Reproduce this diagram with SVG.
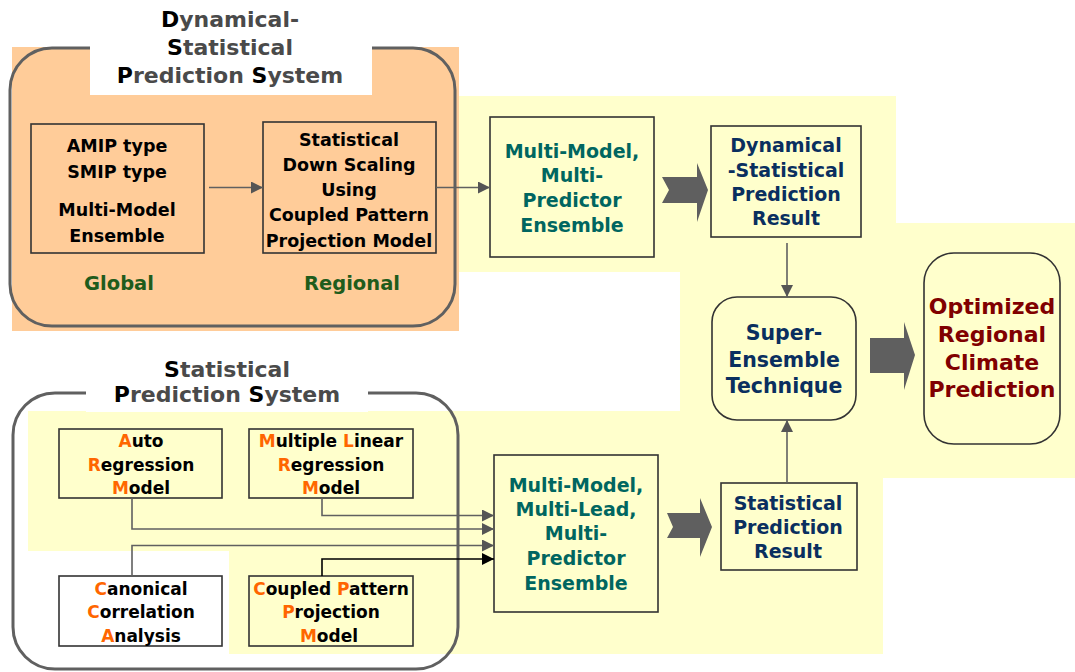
<svg xmlns="http://www.w3.org/2000/svg" width="1075" height="672" viewBox="0 0 1075 672">
<style>
text{font-family:"DejaVu Sans","Liberation Sans",sans-serif;font-weight:bold;text-anchor:middle}
.ttl{font-size:22px;fill:#4a4a4a}
.k{fill:#000}
.o{fill:#ff6600}
.tl{font-size:17.5px;fill:#000}
.bl{font-size:17px;fill:#000}
.grn{font-size:19.5px;fill:#1f5c1c}
.teal{font-size:19px;fill:#006660}
.navy{font-size:19px;fill:#0a2f5f}
.sup{font-size:20.5px;fill:#0a2f5f}
.red{font-size:22px;fill:#800000}
.box{fill:none;stroke:#333;stroke-width:1.6}
.ybox{fill:#ffffcc;stroke:#333;stroke-width:1.6}
.outer{fill:none;stroke:#606060;stroke-width:3}
.ln{fill:none;stroke:#606060;stroke-width:1.6}
.big{fill:#5f5f5f}
</style>
<defs>
<marker id="ag" markerUnits="userSpaceOnUse" markerWidth="13" markerHeight="12" refX="12" refY="6" orient="auto"><path d="M0,0 L12,6 L0,12 Z" fill="#555"/></marker>
<marker id="ak" markerUnits="userSpaceOnUse" markerWidth="13" markerHeight="12" refX="12" refY="6" orient="auto"><path d="M0,0 L12,6 L0,12 Z" fill="#000"/></marker>
</defs>
<rect width="1075" height="672" fill="#fff"/>
<g id="backgrounds">
<rect x="440" y="96" width="456" height="176" fill="#ffffcc"/>
<rect x="680" y="223" width="395" height="255" fill="#ffffcc"/>
<rect x="28" y="411" width="855" height="140" fill="#ffffcc"/>
<rect x="229" y="545" width="654" height="109" fill="#ffffcc"/>
<rect x="680" y="470" width="203" height="20" fill="#ffffcc"/>
<rect x="12" y="47" width="447" height="284" fill="#ffcc99"/>
</g>
<g id="dsps">
<rect class="outer" x="10" y="48" width="445" height="278" rx="42"/>
<rect x="90" y="0" width="282" height="95" fill="#fff"/>
<text class="ttl" x="230" y="27"><tspan class="k">D</tspan>ynamical-</text>
<text class="ttl" x="230" y="55"><tspan class="k">S</tspan>tatistical</text>
<text class="ttl" x="230" y="83"><tspan class="k">P</tspan>rediction <tspan class="k">S</tspan>ystem</text>
</g>
<g id="sps">
<rect class="outer" x="13" y="393" width="445" height="276" rx="42"/>
<rect x="86" y="355" width="282" height="57" fill="#fff"/>
<text class="ttl" x="227" y="377"><tspan class="k">S</tspan>tatistical</text>
<text class="ttl" x="227" y="402"><tspan class="k">P</tspan>rediction <tspan class="k">S</tspan>ystem</text>
</g>
<g id="amip">
<rect class="box" x="31" y="124" width="173" height="129"/>
<text class="tl" x="117" y="152">AMIP type</text>
<text class="tl" x="117" y="178">SMIP type</text>
<text class="tl" x="117" y="216">Multi-Model</text>
<text class="tl" x="117" y="242">Ensemble</text>
</g>
<g id="downscaling">
<rect class="box" x="263" y="122" width="173" height="131"/>
<text class="tl" x="349" y="146">Statistical</text>
<text class="tl" x="349" y="171">Down Scaling</text>
<text class="tl" x="349" y="196">Using</text>
<text class="tl" x="349" y="221">Coupled Pattern</text>
<text class="tl" x="349" y="247">Projection Model</text>
</g>
<g id="labels">
<text class="grn" x="119" y="290">Global</text>
<text class="grn" x="352" y="290">Regional</text>
</g>
<g id="mmmp">
<rect class="ybox" x="490" y="117" width="164" height="140"/>
<text class="teal" x="572" y="158">Multi-Model,</text>
<text class="teal" x="572" y="182">Multi-</text>
<text class="teal" x="572" y="207">Predictor</text>
<text class="teal" x="572" y="232">Ensemble</text>
</g>
<g id="dspr">
<rect class="ybox" x="711" y="126" width="150" height="111"/>
<text class="navy" x="786" y="152">Dynamical</text>
<text class="navy" x="786" y="177">-Statistical</text>
<text class="navy" x="786" y="201">Prediction</text>
<text class="navy" x="786" y="225">Result</text>
</g>
<g id="superensemble">
<rect class="ybox" x="712" y="297" width="144" height="123" rx="25"/>
<text class="sup" x="784" y="340">Super-</text>
<text class="sup" x="784" y="367">Ensemble</text>
<text class="sup" x="784" y="393">Technique</text>
</g>
<g id="optimized">
<rect class="ybox" x="924" y="253" width="136" height="191" rx="30"/>
<text class="red" x="992" y="314">Optimized</text>
<text class="red" x="992" y="342">Regional</text>
<text class="red" x="992" y="370">Climate</text>
<text class="red" x="992" y="397">Prediction</text>
</g>
<g id="spr">
<rect class="ybox" x="721" y="483" width="136" height="87"/>
<text class="navy" x="788" y="510">Statistical</text>
<text class="navy" x="788" y="534">Prediction</text>
<text class="navy" x="788" y="558">Result</text>
</g>
<g id="mmml">
<rect class="ybox" x="494" y="455" width="164" height="157"/>
<text class="teal" x="576" y="492">Multi-Model,</text>
<text class="teal" x="576" y="516">Multi-Lead,</text>
<text class="teal" x="576" y="540">Multi-</text>
<text class="teal" x="576" y="565">Predictor</text>
<text class="teal" x="576" y="590">Ensemble</text>
</g>
<g id="ar">
<rect class="box" x="59" y="429" width="163" height="69"/>
<text class="bl" x="141" y="447"><tspan class="o">A</tspan>uto</text>
<text class="bl" x="141" y="471"><tspan class="o">R</tspan>egression</text>
<text class="bl" x="141" y="494"><tspan class="o">M</tspan>odel</text>
</g>
<g id="mlr">
<rect class="box" x="249" y="429" width="164" height="69"/>
<text class="bl" x="331" y="447"><tspan class="o">M</tspan>ultiple <tspan class="o">L</tspan>inear</text>
<text class="bl" x="331" y="471"><tspan class="o">R</tspan>egression</text>
<text class="bl" x="331" y="494"><tspan class="o">M</tspan>odel</text>
</g>
<g id="cca">
<rect x="59" y="576" width="163" height="70" fill="#fff" stroke="#333" stroke-width="1.6"/>
<text class="bl" x="141" y="595"><tspan class="o">C</tspan>anonical</text>
<text class="bl" x="141" y="618"><tspan class="o">C</tspan>orrelation</text>
<text class="bl" x="141" y="642"><tspan class="o">A</tspan>nalysis</text>
</g>
<g id="cppm">
<rect class="box" x="249" y="576" width="164" height="70"/>
<text class="bl" x="331" y="595"><tspan class="o">C</tspan>oupled <tspan class="o">P</tspan>attern</text>
<text class="bl" x="331" y="618"><tspan class="o">P</tspan>rojection</text>
<text class="bl" x="329" y="642"><tspan class="o">M</tspan>odel</text>
</g>
<g id="connectors">
<path class="ln" d="M209,187.5 H263" marker-end="url(#ag)"/>
<path class="ln" d="M436,187.5 H490" marker-end="url(#ag)"/>
<path class="ln" d="M787,243 V297" marker-end="url(#ag)"/>
<path class="ln" d="M787,483 V420" marker-end="url(#ag)"/>
<path class="ln" d="M322,498 V515.5 H494" marker-end="url(#ag)"/>
<path class="ln" d="M132,498 V529 H494" marker-end="url(#ag)"/>
<path class="ln" d="M132,576 V545.5 H494" marker-end="url(#ag)"/>
<path d="M322,576 V559 H494" fill="none" stroke="#000" stroke-width="1.6" marker-end="url(#ak)"/>
<polygon class="big" points="662,177 697,177 697,163 708,190 697,222 697,203 662,203 669,190"/>
<polygon class="big" points="667,513 700,513 700,498 712,527 700,557 700,538 667,538 673,527"/>
<polygon class="big" points="870,338 904,338 904,322 915,355 904,390 904,373 870,373"/>
</g>
</svg>
